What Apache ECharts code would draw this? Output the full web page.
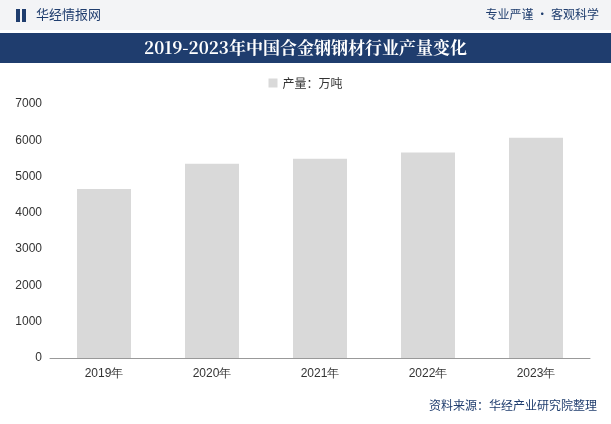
<!DOCTYPE html>
<html><head><meta charset="utf-8">
<script src="https://cdn.jsdelivr.net/npm/echarts@6/dist/echarts.min.js"></script>
<style>html,body{margin:0;padding:0;background:#fff}#c{width:611px;height:424px}</style>
</head><body><div id="c"></div>
<script>
const categories = ['2019年','2020年','2021年','2022年','2023年'];
const production = [4660, 5350, 5490, 5660, 6070];
const yTicks = [0,1000,2000,3000,4000,5000,6000,7000];
const chart = echarts.init(document.getElementById('c'));
chart.setOption({
  animation:false,
  graphic:[
    {type:'rect',shape:{x:0,y:0,width:611,height:30},style:{fill:'#f3f4f6'}},
    {type:'rect',shape:{x:16,y:9,width:4,height:13},style:{fill:'#1f3d6e'}},
    {type:'rect',shape:{x:22,y:9,width:4,height:13},style:{fill:'#1f3d6e'}},
    {type:'text',left:36,top:8,style:{text:'华经情报网',fill:'#1f3d6e',font:'13px "Noto Sans CJK SC"'}},
    {type:'text',right:12,top:8,style:{text:'专业严谨 • 客观科学',fill:'#1f3d6e',font:'12px "Noto Sans CJK SC"'}},
    {type:'rect',shape:{x:0,y:33,width:611,height:30},style:{fill:'#1f3d6e'}},
    {type:'text',left:'center',top:39,style:{text:'2019-2023年中国合金钢钢材行业产量变化',fill:'#fff',font:'bold 17px "Noto Serif CJK SC","Noto Sans CJK SC"'}},
    {type:'text',right:14,top:399,style:{text:'资料来源：华经产业研究院整理',fill:'#1f3d6e',font:'12px "Noto Sans CJK SC"'}}
  ],
  legend:{top:72,left:'center',itemWidth:9,itemHeight:9,icon:'rect',textStyle:{fontSize:12,color:'#333',fontFamily:'Noto Sans CJK SC'},data:['产量：万吨']},
  grid:{left:50,right:21,top:104,bottom:66},
  xAxis:{type:'category',data:categories,axisTick:{show:false},axisLine:{lineStyle:{color:'#999'}},axisLabel:{color:'#333',fontSize:12,margin:10}},
  yAxis:{type:'value',min:yTicks[0],max:yTicks[yTicks.length-1],interval:1000,splitLine:{show:false},axisLine:{show:false},axisTick:{show:false},axisLabel:{color:'#333',fontSize:12,formatter:v=>String(v)}},
  series:[{name:'产量：万吨',type:'bar',data:production,barWidth:54,itemStyle:{color:'#d9d9d9'}}]
});
</script></body></html>
